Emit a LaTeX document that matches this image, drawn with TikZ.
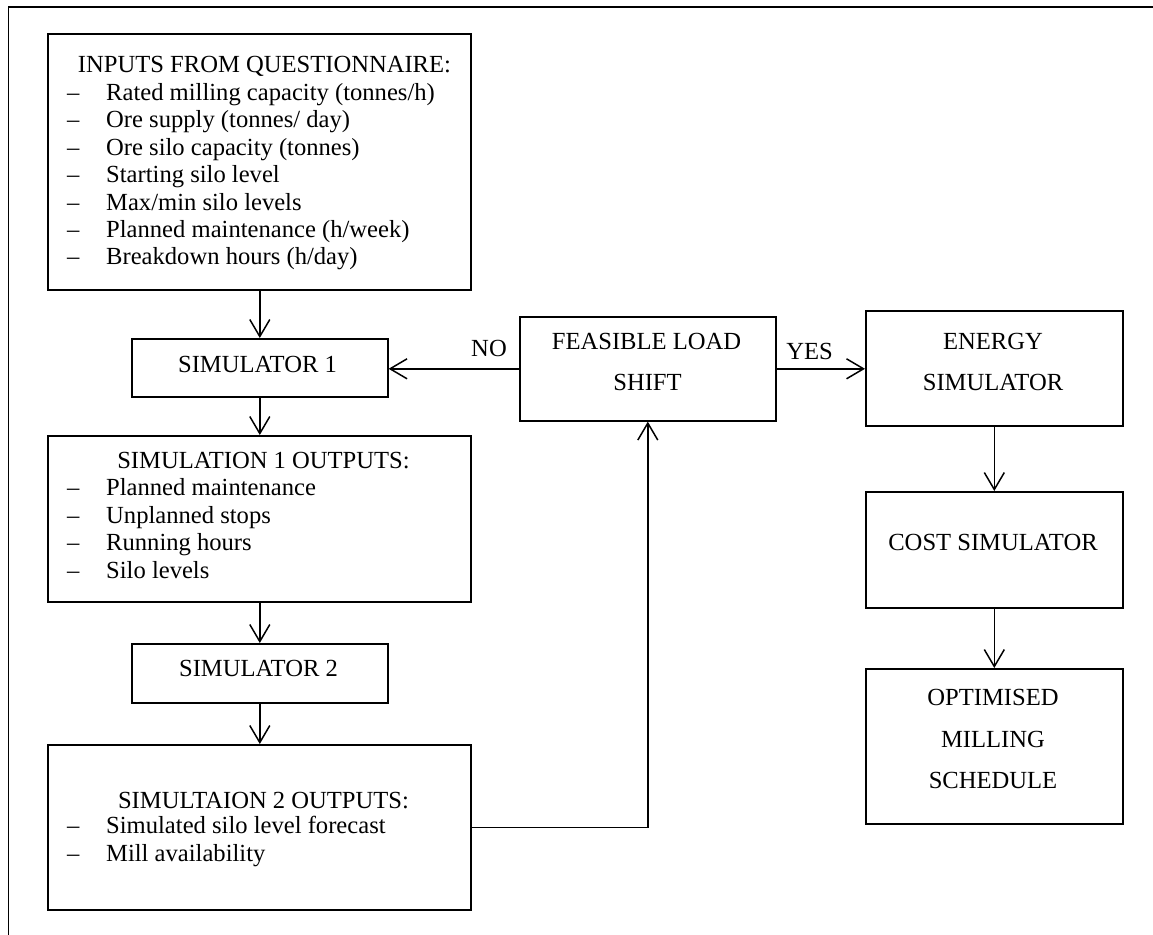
\documentclass[tikz,border=0pt]{standalone}
\usepackage{fontspec}
\setmainfont{Liberation Serif}
\usetikzlibrary{arrows.meta}

\begin{document}
\begin{tikzpicture}[x=1pt,y=-1pt,
  box/.style={draw, line width=1.6pt, inner sep=0pt, anchor=north west},
  txt/.style={font=\fontsize{24.6}{29}\selectfont, inner sep=0pt},
  flow/.style={line width=1.5pt, -{Straight Barb[length=17pt,width=20pt]}},
  frameline/.style={line width=1.9pt}]
\useasboundingbox (0,0) rectangle (1153,934);

% partial outer frame (top and left edges)
\coordinate (fr1) at (1160,7);
\coordinate (fr2) at (8.5,7);
\coordinate (fr3) at (8.5,940);
\draw[frameline] (fr1) -- (fr2) -- (fr3);

% ---------- boxes ----------
\node[box, minimum width=423pt, minimum height=256pt] (inp)   at (47,33)   {};
\node[box, minimum width=256pt, minimum height=58pt]  (sim1)  at (131,338) {};
\node[box, minimum width=423pt, minimum height=166pt] (out1)  at (47,435)  {};
\node[box, minimum width=256pt, minimum height=59pt]  (sim2)  at (131,643) {};
\node[box, minimum width=423pt, minimum height=165pt] (out2)  at (47,744)  {};
\node[box, minimum width=256pt, minimum height=104pt] (fls)   at (519,316) {};
\node[box, minimum width=257pt, minimum height=115pt] (esim)  at (865,310) {};
\node[box, minimum width=257pt, minimum height=116pt] (csim)  at (865,491) {};
\node[box, minimum width=257pt, minimum height=155pt] (opt)   at (865,668) {};

% ---------- list box: inputs ----------
\node[txt, anchor=base] (inpT) at (264.5,73) {INPUTS FROM QUESTIONNAIRE:};
\foreach \t [count=\i] in {Rated milling capacity (tonnes/h),
    Ore supply (tonnes/ day), Ore silo capacity (tonnes),
    Starting silo level, Max/min silo levels,
    Planned maintenance (h/week), Breakdown hours (h/day)}{
  \node[txt, anchor=base west] (inpD\i) at (67,{73+27.4*\i}) {–};
  \node[txt, anchor=base west] (inpI\i) at (106,{73+27.4*\i}) {\t};
}

% ---------- list box: simulation 1 outputs ----------
\node[txt, anchor=base] (out1T) at (263.5,468) {SIMULATION 1 OUTPUTS:};
\foreach \t [count=\i] in {Planned maintenance, Unplanned stops,
    Running hours, Silo levels}{
  \node[txt, anchor=base west] (out1D\i) at (67,{468+27.5*\i}) {–};
  \node[txt, anchor=base west] (out1I\i) at (106,{468+27.5*\i}) {\t};
}

% ---------- list box: simulation 2 outputs ----------
\node[txt, anchor=base] (out2T) at (263.5,808) {SIMULTAION 2 OUTPUTS:};
\foreach \t [count=\i] in {Simulated silo level forecast, Mill availability}{
  \node[txt, anchor=base west] (out2D\i) at (67,{806+27.5*\i}) {–};
  \node[txt, anchor=base west] (out2I\i) at (106,{806+27.5*\i}) {\t};
}

% ---------- single-item boxes ----------
\node[txt, anchor=base] (sim1T) at (257.5,372) {SIMULATOR 1};
\node[txt, anchor=base] (sim2T) at (258.5,676) {SIMULATOR 2};
\node[txt, anchor=base] (flsT1) at (646.5,349) {FEASIBLE LOAD};
\node[txt, anchor=base] (flsT2) at (647.5,390) {SHIFT};
\node[txt, anchor=base] (esimT1) at (993,349) {ENERGY};
\node[txt, anchor=base] (esimT2) at (993,390) {SIMULATOR};
\node[txt, anchor=base] (csimT) at (993,550) {COST SIMULATOR};
\node[txt, anchor=base] (optT1) at (993,705) {OPTIMISED};
\node[txt, anchor=base] (optT2) at (993,747) {MILLING};
\node[txt, anchor=base] (optT3) at (993,788) {SCHEDULE};

% ---------- connectors ----------
\draw[flow] (inp.south -| sim1.north) -- (sim1.north);
\draw[flow] (sim1.south) -- (sim1.south |- out1.north);
\draw[flow] (out1.south -| sim2.north) -- (sim2.north);
\draw[flow] (sim2.south) -- (sim2.south |- out2.north);
\draw[flow] (out2.east) -| (fls.south);
\draw[flow] (fls.west) -- (fls.west -| sim1.east);
\draw[flow] (fls.east) -- (fls.east -| esim.west);
\draw[flow] (esim.south) -- (csim.north);
\draw[flow] (csim.south) -- (opt.north);

% branch labels
\node[txt, anchor=base] (noL)  at (489,356) {NO};
\node[txt, anchor=base] (yesL) at (809.5,359) {YES};
\end{tikzpicture}
\end{document}
